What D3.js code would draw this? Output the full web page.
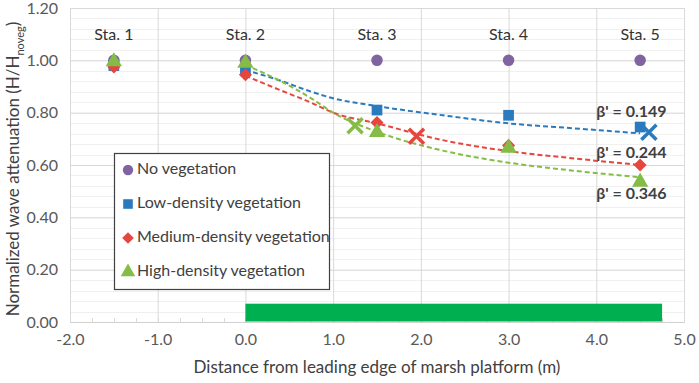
<!DOCTYPE html>
<html>
<head>
<meta charset="utf-8">
<script src="https://cdn.jsdelivr.net/npm/d3@7"></script>
<style>
  body { margin: 0; background: #fff; }
  svg { display: block; font-family: Lato, "Open Sans", sans-serif; }
</style>
</head>
<body>
<svg id="chart"></svg>
<script>
// station positions (m) and labels
const stations = ["Sta. 1", "Sta. 2", "Sta. 3", "Sta. 4", "Sta. 5"];
const stationX = [-1.5, 0, 1.5, 3, 4.5];

// measured normalized wave heights per station
const noVeg = [1.0, 1.0, 1.0, 1.0, 1.0];
const lowVeg = [0.98, 0.96, 0.81, 0.79, 0.745];
const medVeg = [0.975, 0.945, 0.762, 0.675, 0.6];
const highVeg = [0.995, 0.99, 0.725, 0.665, 0.535];

// trend curves
const trendX = [0, 0.375, 0.75, 1.0, 1.5, 2.25, 3, 3.75, 4.5];
const lowTrend = [0.963, 0.925, 0.88, 0.855, 0.825, 0.79, 0.759, 0.74, 0.721];
const medTrend = [0.941, 0.889, 0.838, 0.8, 0.759, 0.695, 0.653, 0.625, 0.6];
const highTrend = [0.982, 0.925, 0.855, 0.8, 0.727, 0.655, 0.609, 0.578, 0.553];

// cross markers (low, medium, high)
const crossX = [4.6, 1.95, 1.25];
const crossY = [0.725, 0.71, 0.75];

// beta labels
const betaText = ["β' = 0.149", "β' = 0.244", "β' = 0.346"];
const betaX = [4.4, 4.4, 4.4];
const betaY = [0.80, 0.642, 0.484];

// marsh platform extent
const marshX = [0, 4.75];
const marshH = 0.07;

const xTicks = [-2, -1, 0, 1, 2, 3, 4, 5];
const yTicks = [0, 0.2, 0.4, 0.6, 0.8, 1.0, 1.2];

const seriesNames = ["No vegetation", "Low-density vegetation", "Medium-density vegetation", "High-density vegetation"];
const colors = ["#8064a2", "#2a7abf", "#e5473f", "#85bc46"];
// diamond = square turned 45deg (excel style)
const shapes = [d3.symbolCircle, d3.symbolSquare, d3.symbolSquare, d3.symbolTriangle];
const rotations = [0, 0, 45, 0];
const sizes = [105, 115, 85, 115];

const width = 699;
const height = 383;
const margin = { top: 8, right: 15, bottom: 61, left: 70 };
const innerWidth = width - margin.left - margin.right;
const innerHeight = height - margin.top - margin.bottom;

const svg = d3.select("#chart").attr("width", width).attr("height", height);

const xScale = d3.scaleLinear().domain([-2, 5]).range([0, innerWidth]);
const yScale = d3.scaleLinear().domain([0, 1.2]).range([innerHeight, 0]);

// plain hyphen for negatives, like the original
const fmt1 = (d) => d3.format(".1f")(d).replace("−", "-");

const g = svg.append("g").attr("transform", `translate(${margin.left},${margin.top})`);

// minor horizontal grid
g.append("g")
  .selectAll("line")
  .data(d3.range(0, 1.2001, 0.04))
  .join("line")
  .attr("x1", 0)
  .attr("x2", innerWidth)
  .attr("y1", (d) => Math.round(yScale(d)) + 0.5)
  .attr("y2", (d) => Math.round(yScale(d)) + 0.5)
  .attr("stroke", "#f0f0f0");

// minor x ticks
g.append("g")
  .selectAll("line")
  .data(d3.range(-2, 5.001, 0.25))
  .join("line")
  .attr("x1", (d) => Math.round(xScale(d)) + 0.5)
  .attr("x2", (d) => Math.round(xScale(d)) + 0.5)
  .attr("y1", innerHeight)
  .attr("y2", innerHeight - 4)
  .attr("stroke", "#d9d9d9");

// major grid via axes
const yAxis = d3.axisLeft(yScale).tickValues(yTicks).tickFormat(d3.format(".2f"))
  .tickSize(-innerWidth).tickPadding(12);
const yAxisG = g.append("g").call(yAxis);
yAxisG.select(".domain").remove();
yAxisG.selectAll("line").attr("stroke", "#d9d9d9");
yAxisG.selectAll("text").attr("fill", "#595959").style("font-size", "16px")
  .style("font-family", "Lato, sans-serif");

const xAxis = d3.axisBottom(xScale).tickValues(xTicks).tickFormat(fmt1)
  .tickSize(-innerHeight).tickPadding(12);
const xAxisG = g.append("g").attr("transform", `translate(0,${innerHeight})`).call(xAxis);
xAxisG.select(".domain").attr("stroke", "#d0d0d0");
xAxisG.selectAll("line").attr("stroke", "#d9d9d9");
xAxisG.selectAll("text").attr("fill", "#595959").style("font-size", "16px")
  .style("font-family", "Lato, sans-serif");

// marsh platform bar
g.append("rect")
  .attr("x", xScale(marshX[0]))
  .attr("y", yScale(marshH))
  .attr("width", xScale(marshX[1]) - xScale(marshX[0]))
  .attr("height", yScale(0) - yScale(marshH) - 0.5)
  .attr("fill", "#00b050");

// station labels
g.append("g")
  .selectAll("text")
  .data(stations)
  .join("text")
  .attr("x", (d, i) => xScale(stationX[i]))
  .attr("y", yScale(1.095))
  .attr("text-anchor", "middle")
  .attr("dominant-baseline", "middle")
  .attr("fill", "#333")
  .style("font-size", "16px")
  .text((d) => d);

// dashed trend lines
const trends = [lowTrend, medTrend, highTrend];
const line = d3.line()
  .x((d, i) => xScale(trendX[i]))
  .y((d) => yScale(d))
  .curve(d3.curveMonotoneX);
trends.forEach((t, k) => {
  g.append("path")
    .datum(t)
    .attr("d", line)
    .attr("fill", "none")
    .attr("stroke", colors[k + 1])
    .attr("stroke-width", 2)
    .attr("stroke-dasharray", "5,3");
});

// measured points
const measured = [noVeg, lowVeg, medVeg, highVeg];
measured.forEach((vals, k) => {
  g.append("g")
    .selectAll("path")
    .data(vals)
    .join("path")
    .attr("transform", (d, i) =>
      `translate(${xScale(stationX[i])},${yScale(d)}) rotate(${rotations[k]})`)
    .attr("d", d3.symbol().type(shapes[k]).size(sizes[k]))
    .attr("fill", colors[k]);
});

// cross markers
const crossSym = d3.symbol().type(d3.symbolX).size(150);
g.append("g")
  .selectAll("path")
  .data(crossX)
  .join("path")
  .attr("transform", (d, i) => `translate(${xScale(d)},${yScale(crossY[i])})`)
  .attr("d", crossSym)
  .attr("fill", "none")
  .attr("stroke", (d, i) => colors[i + 1])
  .attr("stroke-width", 3.5);

// beta labels
g.append("g")
  .selectAll("text")
  .data(betaText)
  .join("text")
  .attr("x", (d, i) => xScale(betaX[i]))
  .attr("y", (d, i) => yScale(betaY[i]))
  .attr("text-anchor", "middle")
  .attr("dominant-baseline", "middle")
  .attr("fill", "#404040")
  .style("font-size", "16px")
  .style("font-weight", "bold")
  .text((d) => d);

// legend
const legend = svg.append("g").attr("transform", "translate(114,153)");
legend.append("rect")
  .attr("x", 0.5).attr("y", 0.5)
  .attr("width", 215).attr("height", 136)
  .attr("fill", "#fff")
  .attr("stroke", "#404040")
  .attr("stroke-width", 1.2);
seriesNames.forEach((name, k) => {
  const row = legend.append("g").attr("transform", `translate(14,${17 + k * 34})`);
  row.append("path")
    .attr("transform", `rotate(${rotations[k]})`)
    .attr("d", d3.symbol().type(shapes[k]).size(sizes[k] * 0.8))
    .attr("fill", colors[k]);
  row.append("text")
    .attr("x", 9)
    .attr("dominant-baseline", "middle")
    .attr("fill", "#404040")
    .style("font-size", "16px")
    .text(name);
});

// axis titles
svg.append("text")
  .attr("x", margin.left + innerWidth / 2)
  .attr("y", 369)
  .attr("text-anchor", "middle")
  .attr("dominant-baseline", "middle")
  .attr("fill", "#404040")
  .style("font-size", "17px")
  .text("Distance from leading edge of marsh platform (m)");

const yTitle = svg.append("text")
  .attr("transform", `translate(15,${margin.top + innerHeight / 2 + 4}) rotate(-90)`)
  .attr("text-anchor", "middle")
  .attr("dominant-baseline", "middle")
  .attr("fill", "#404040")
  .style("font-size", "17px");
yTitle.append("tspan").text("Normalized wave attenuation (H/H");
yTitle.append("tspan").attr("baseline-shift", "sub").style("font-size", "11px").text("noveg");
yTitle.append("tspan").text(")");
</script>
</body>
</html>
